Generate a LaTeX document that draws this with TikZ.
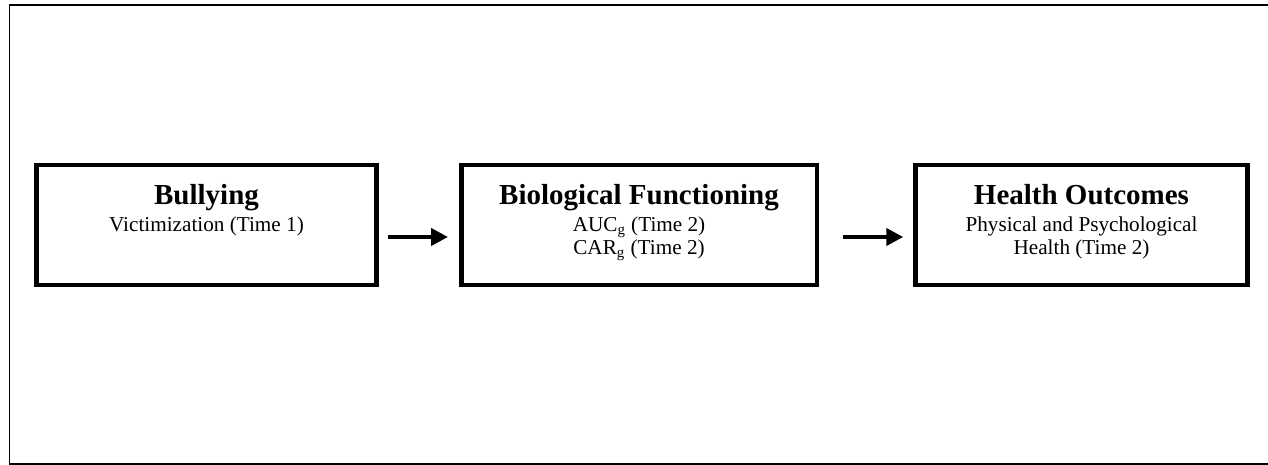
\documentclass[tikz,border=0pt]{standalone}
\usepackage{fontspec}
\setmainfont{Liberation Serif}
\usepackage{tikz}
\usetikzlibrary{positioning, arrows.meta, calc}

\tikzset{
	stagebox/.style={draw=black, line width=2.25pt, minimum height=60pt, inner sep=0pt},
	stagetext/.style={align=center, inner sep=0pt, font=\fontsize{10.6}{11.65}\selectfont},
	flow/.style={line width=2pt, -{Triangle[length=8.5pt, width=8.5pt]}}
}
\newcommand{\stagetitle}[1]{{\fontsize{14.5}{16}\selectfont\bfseries #1}\\[1.8pt]}

\begin{document}
\begin{tikzpicture}[x=0.5pt, y=-0.5pt]
		\useasboundingbox (0,0) rectangle (1268,465);
		% outer frame, open to the right
		\draw[line width=0.65pt] (1290,5) -- (9.5,5) -- (9.5,464) -- (1290,464);
		
		% the three stages
		\node[stagebox, minimum width=170pt] (bully) at (206.5,225) {};
		\node[stagebox, minimum width=177.75pt] (bio) at (639,225) {};
		\node[stagebox, minimum width=166pt] (health) at (1081.5,225) {};
		
		\node[stagetext, below=10.5pt of bully.north] (bullytxt) {\stagetitle{Bullying}Victimization (Time 1)};
		\node[stagetext, below=10.5pt of bio.north] (biotxt) {\stagetitle{Biological Functioning}AUC\textsubscript{g} (Time 2)\\CAR\textsubscript{g} (Time 2)};
		\node[stagetext, below=10.5pt of health.north] (healthtxt) {\stagetitle{Health Outcomes}Physical and Psychological\\Health (Time 2)};
		
		% arrows between stages
		\draw[flow] ($(bully.east)+(9,12)$) -- ($(bio.west)+(-11,12)$);
		\draw[flow] ($(bio.east)+(24,12)$) -- ($(health.west)+(-10,12)$);
		
\end{tikzpicture}
\end{document}
